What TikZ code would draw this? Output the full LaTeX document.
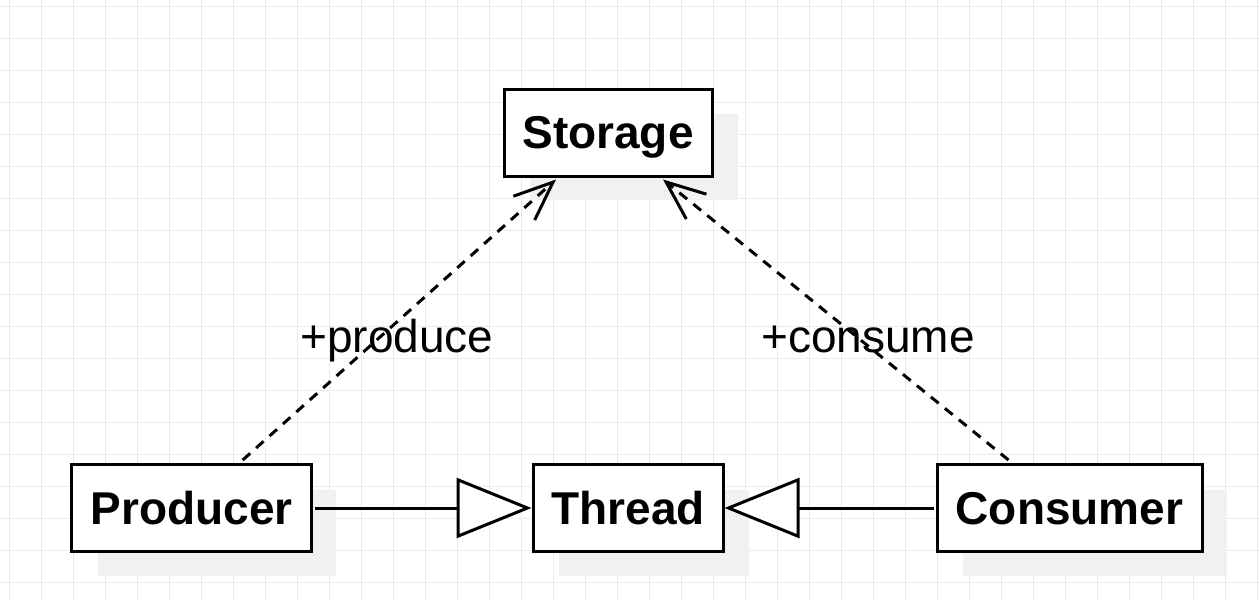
\documentclass[tikz,border=0pt]{standalone}
\usepackage{fontspec}
\setmainfont{Liberation Sans}
\usetikzlibrary{arrows.meta}
\definecolor{gridc}{HTML}{EBEBEB}
\definecolor{shadowc}{HTML}{F1F1F1}
\begin{document}
\begin{tikzpicture}[x=1pt,y=-1pt,
  box/.style={draw=black, line width=3pt, fill=white, inner sep=0pt,
    font=\fontsize{46}{50}\selectfont\bfseries, anchor=center},
  lbl/.style={font=\fontsize{46}{50}\selectfont, anchor=base, inner sep=0pt},
  dep/.style={line width=3pt, dash pattern=on 10pt off 8pt,
    -{Straight Barb[length=39pt, width=32pt, line width=3pt]}},
  inh/.style={line width=3pt,
    -{Triangle[open, length=75pt, width=60pt, line width=3pt, fill=white]}}
]
\useasboundingbox (0,0) rectangle (1260,600);
\fill[white] (0,0) rectangle (1260,600);
% grid
\foreach \i in {0,...,39} {
  \draw[gridc, line width=1pt] ({9.3+32*\i},0) -- ({9.3+32*\i},600);
}
\foreach \j in {0,...,18} {
  \draw[gridc, line width=1pt] (0,{6+32*\j}) -- (1260,{6+32*\j});
}
% shadows
\fill[shadowc] (530,114) rectangle (738,200);
\fill[shadowc] (98,490) rectangle (336,576);
\fill[shadowc] (559,490) rectangle (749,576);
\fill[shadowc] (963,490) rectangle (1227,576);
% nodes
\node[box, minimum width=208pt, text height=59pt, text depth=28pt] (S) at (608,132.5) {Storage};
\node[box, minimum width=240pt, text height=60pt, text depth=27pt] (P) at (191.7,508) {Producer};
\node[box, minimum width=190pt, text height=60pt, text depth=27pt] (T) at (628,508) {Thread};
\node[box, minimum width=265pt, text height=60pt, text depth=27pt] (C) at (1069.5,508) {Consumer};
% inheritance
\draw[inh] ([xshift=2pt]P.east) -- (T.west);
\draw[inh] ([xshift=-2pt]C.west) -- (T.east);
% dependencies
\draw[dep] ([xshift=51pt,yshift=3pt]P.north) -- ([xshift=-52pt,yshift=-2pt]S.south);
\draw[dep] ([xshift=-61pt,yshift=3pt]C.north) -- ([xshift=55pt,yshift=-2pt]S.south);
% labels
\node[lbl] (lp) at (397,352) {+produce};
\node[lbl] (lc) at (868,352) {+consume};
\end{tikzpicture}
\end{document}
